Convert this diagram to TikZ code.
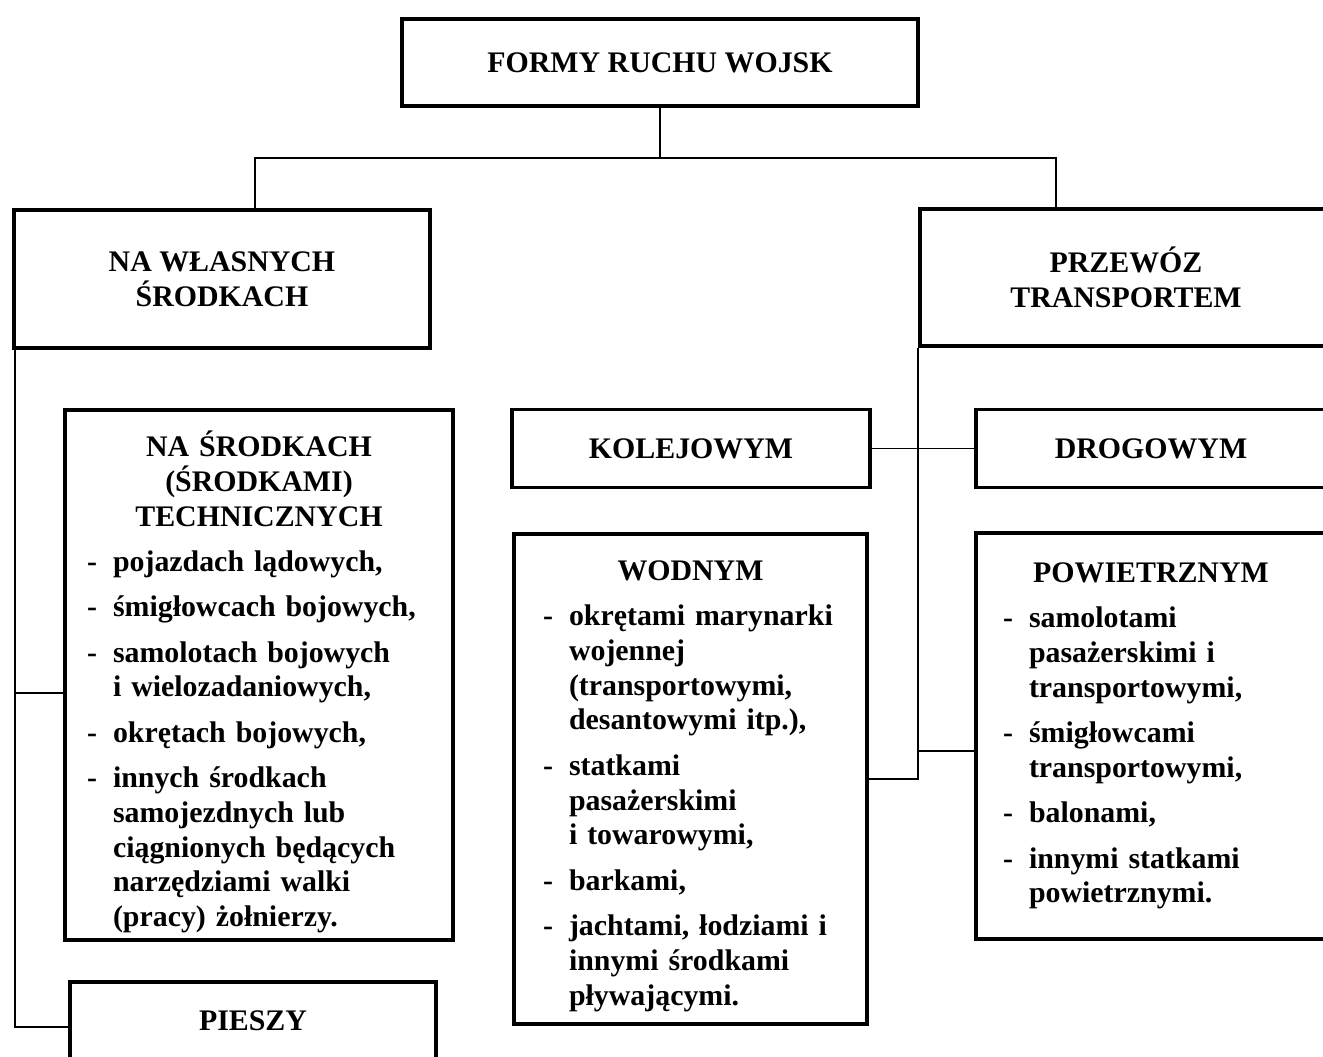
\documentclass[tikz,border=0pt]{standalone}
\usepackage{fontspec}
\setmainfont{Liberation Serif}
\usepackage{tikz}
\usetikzlibrary{positioning}

% one dash entry of a list box
\newcommand{\itm}[1]{\par\vspace{6pt}\hangindent=5.2mm\hangafter=1\noindent\makebox[5.2mm][l]{-}#1\par}

\begin{document}
\begin{tikzpicture}[x=0.02cm, y=-0.02cm]

% Define styles
\tikzstyle{box} = [draw, line width=2.2pt, inner sep=0pt, align=center, font=\fontsize{17}{19.8}\selectfont\bfseries]
\tikzstyle{listbox} = [box, align=left]
\tikzstyle{link} = [line width=0.8pt]

\useasboundingbox (0,0) rectangle (1323,1056);

% Top box
\node[box, minimum width=103.2mm, minimum height=17.4mm] (formy) at (660,62.5) {FORMY RUCHU WOJSK};

% Two main branches
\node[box, minimum width=83.2mm, minimum height=27.6mm] (wlasne) at (222,279) {NA WŁASNYCH\\ŚRODKACH};
\node[box, minimum width=82.4mm, minimum height=27.4mm] (przewoz) at (1126,277.5) {PRZEWÓZ\\TRANSPORTEM};

% Own means
\node[listbox, minimum width=77.6mm, minimum height=106mm, text width=68.8mm] (techniczne) at (259,675) {%
{\centering NA ŚRODKACH\\(ŚRODKAMI)\\TECHNICZNYCH\par}
\itm{pojazdach lądowych,}
\itm{śmigłowcach bojowych,}
\itm{samolotach bojowych\newline i wielozadaniowych,}
\itm{okrętach bojowych,}
\itm{innych środkach\newline samojezdnych lub\newline ciągnionych będących\newline narzędziami walki\newline (pracy) żołnierzy.}
\kern-8pt};
\node[box, minimum width=73.2mm, minimum height=15.6mm] (pieszy) at (253,1021) {PIESZY};

% Transport
\node[box, minimum width=71.6mm, minimum height=15.6mm] (kolej) at (691,448.5) {KOLEJOWYM};
\node[box, minimum width=70mm, minimum height=15.6mm] (drog) at (1151,448.5) {DROGOWYM};
\node[listbox, minimum width=70.6mm, minimum height=98mm, text width=59mm] (wodny) at (690.5,779) {%
{\centering WODNYM\par}
\itm{okrętami marynarki\newline wojennej\newline (transportowymi,\newline desantowymi itp.),}
\itm{statkami\newline pasażerskimi\newline i towarowymi,}
\itm{barkami,}
\itm{jachtami, łodziami i\newline innymi środkami\newline pływającymi.}
\kern-8pt};
\node[listbox, minimum width=70mm, minimum height=81.2mm, text width=59.2mm] (powietrz) at (1151,736) {%
{\centering POWIETRZNYM\par}
\itm{samolotami\newline pasażerskimi i\newline transportowymi,}
\itm{śmigłowcami\newline transportowymi,}
\itm{balonami,}
\itm{innymi statkami\newline powietrznymi.}};

% Connectors from the top
\coordinate (split) at (660,158);
\draw[link] (formy.south) -- (split);
\draw[link] ([xshift=6.6mm]wlasne.north) |- (split) -| ([xshift=-14mm]przewoz.north);

% Left branch
\draw[link] ([xshift=0.6mm]wlasne.south west) |- ([yshift=-1.2mm]pieszy.west);
\draw[link] ([yshift=-3.6mm]techniczne.west) -- ([yshift=-3.6mm,xshift=0.6mm]techniczne.west -| wlasne.south west);

% Right branch
\draw[link] (przewoz.south west) |- (wodny.east);
\draw[link] (kolej.east) -- (drog.west);
\draw[link] ([yshift=-3mm]powietrz.west) -- ([yshift=-3mm]powietrz.west -| przewoz.south west);

\end{tikzpicture}
\end{document}
